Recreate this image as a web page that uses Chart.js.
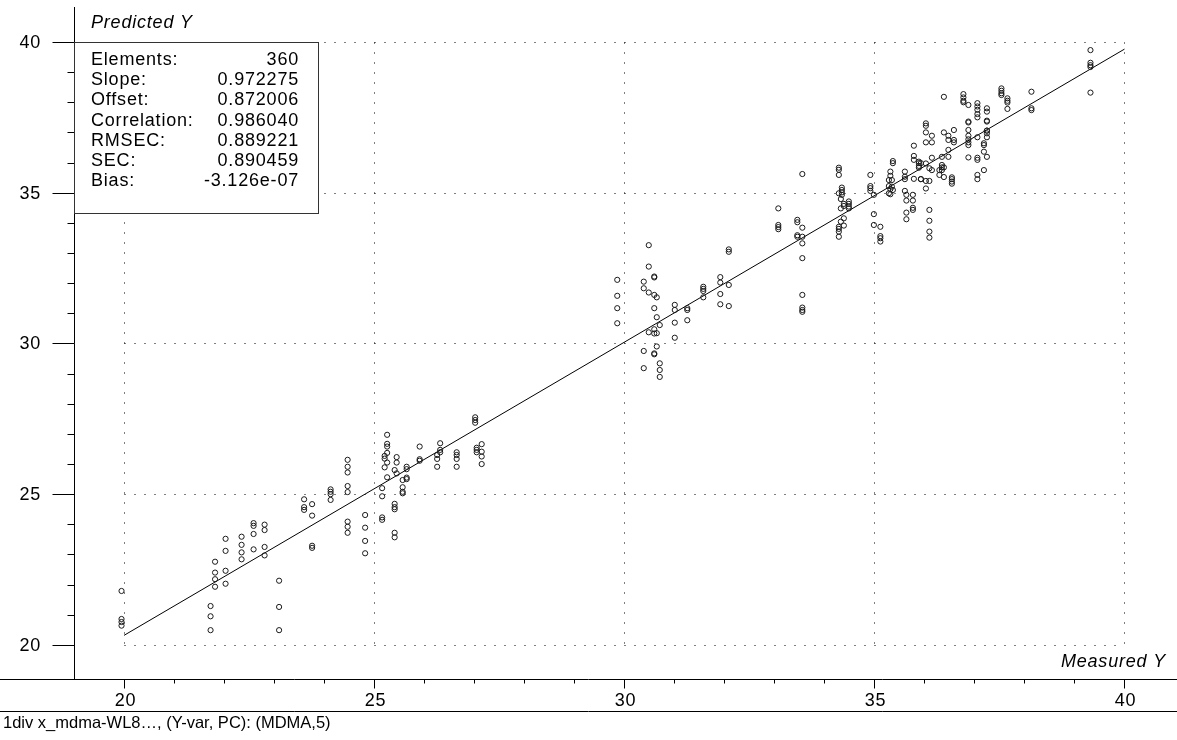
<!DOCTYPE html>
<html>
<head>
<meta charset="utf-8">
<title>Predicted vs Measured Y</title>
<script src="https://cdn.jsdelivr.net/npm/chart.js@4/dist/chart.umd.min.js"></script>
<style>
    html, body { margin: 0; padding: 0; background: #fff; }
    #wrap { width: 1177px; height: 740px; }
</style>
</head>
<body>
<div id="wrap"><canvas id="predChart" width="1177" height="740"></canvas></div>
<script>
// Measured Y of each replicate group (x axis)
const measured = [19.95, 21.73, 21.82, 22.03, 22.35, 22.59, 22.81, 23.10, 23.60, 23.76,
    24.13, 24.47, 24.82, 25.16, 25.21, 25.26, 25.41, 25.45, 25.57, 25.65,
    25.91, 26.26, 26.32, 26.65, 27.02, 27.05, 27.15, 29.86, 30.39, 30.49,
    30.60, 30.65, 30.71, 31.01, 31.26, 31.58, 31.92, 32.09, 33.08, 33.46,
    33.56, 34.29, 34.33, 34.35, 34.39, 34.49, 34.92, 34.99, 35.12, 35.29,
    35.32, 35.35, 35.37, 35.61, 35.64, 35.77, 35.79, 35.89, 35.93, 36.03,
    36.10, 36.15, 36.30, 36.35, 36.39, 36.48, 36.55, 36.59, 36.78, 36.88,
    37.06, 37.19, 37.25, 37.54, 37.66, 38.14, 39.32];

// Predicted Y for each group above (y axis)
const predicted = [
    [21.79, 20.86, 20.76, 20.64],
    [21.29, 20.95, 20.49],
    [22.76, 22.40, 22.18, 21.93],
    [23.52, 23.12, 22.46, 22.03],
    [23.59, 23.32, 23.07, 22.84],
    [24.04, 23.95, 23.68, 23.17],
    [23.99, 23.81, 23.25, 22.97],
    [22.13, 21.26, 20.49],
    [24.83, 24.57, 24.48],
    [24.67, 24.29, 23.29, 23.22],
    [25.16, 25.08, 25.00, 24.81],
    [26.14, 25.91, 25.72, 25.27, 25.07, 24.09, 23.92, 23.72],
    [24.31, 23.89, 23.45, 23.04],
    [25.20, 24.93, 24.23, 24.15],
    [26.27, 26.18, 25.89],
    [26.97, 26.67, 26.58, 26.37, 26.05, 25.56],
    [25.80, 24.68, 24.57, 24.50, 23.72, 23.57],
    [26.23, 26.05, 25.69],
    [25.47, 25.23, 25.08, 25.03],
    [25.91, 25.83, 25.55, 25.50],
    [26.58, 26.16, 26.11],
    [26.30, 26.17, 25.91],
    [26.69, 26.47, 26.39],
    [26.39, 26.30, 26.17, 25.91],
    [27.55, 27.46, 27.37],
    [26.54, 26.47, 26.39],
    [26.66, 26.41, 26.25, 26.00],
    [32.11, 31.58, 31.17, 30.67],
    [32.05, 31.83, 29.75, 29.18],
    [33.26, 32.55, 31.69, 30.37],
    [32.22, 32.19, 31.61, 31.17, 30.47, 30.33, 29.67, 29.64],
    [31.53, 30.87, 30.34, 29.90],
    [30.61, 29.34, 29.12, 28.89],
    [31.28, 31.11, 30.69, 30.19],
    [31.17, 31.11, 30.77],
    [31.88, 31.81, 31.74, 31.53],
    [32.20, 32.02, 31.64, 31.30],
    [33.12, 33.04, 31.94, 31.24],
    [34.48, 33.93, 33.86, 33.79],
    [34.10, 34.02, 33.59, 33.54],
    [35.62, 33.84, 33.54, 33.32, 32.83, 31.61, 31.19, 31.11, 31.05],
    [35.83, 35.76, 35.59, 34.98, 33.87, 33.80, 33.71, 33.54],
    [34.79, 34.48, 34.04],
    [35.17, 35.09, 35.01, 34.93],
    [34.63, 34.56, 34.15, 33.91],
    [34.71, 34.63, 34.54, 34.48],
    [35.59, 35.22, 35.15, 35.06],
    [34.93, 34.29, 33.93],
    [33.87, 33.56, 33.49, 33.38],
    [35.42, 35.22, 34.98],
    [35.70, 35.56, 35.12, 34.95],
    [35.42, 35.20],
    [36.05, 35.98, 35.09],
    [35.70, 35.53, 35.45, 35.06],
    [34.93, 34.74, 34.34, 34.12],
    [34.93, 34.74, 34.50, 34.43],
    [36.56, 36.22, 36.09, 35.46],
    [36.03, 35.98, 35.89, 35.83],
    [35.98, 35.45, 35.45],
    [37.30, 37.22, 37.00, 36.67, 35.97, 35.39, 35.14],
    [35.81, 35.39, 34.43, 34.07, 33.71, 33.51],
    [36.89, 36.67, 36.16, 35.75],
    [35.75, 35.59],
    [36.19, 35.92, 35.84, 35.75],
    [38.18, 37.00, 35.84, 35.52],
    [36.89, 36.75, 36.42, 36.19],
    [35.51, 35.45, 35.37, 35.30],
    [37.08, 36.75, 36.67],
    [38.27, 38.16, 38.05, 38.00],
    [37.91, 37.36, 37.33, 37.08, 36.89, 36.77, 36.67, 36.58, 36.17],
    [37.97, 37.86, 37.75, 37.61, 37.50, 36.84, 36.16, 36.09, 35.59, 35.45],
    [36.64, 36.58, 36.36, 35.75],
    [37.80, 37.69, 37.39, 37.36, 37.06, 37.06, 36.97, 36.84, 36.19],
    [38.46, 38.38, 38.30, 38.24],
    [38.13, 38.05, 37.99, 37.78],
    [38.35, 37.80, 37.74],
    [39.73, 39.31, 39.23, 39.17, 38.32]
];

const xTicks = [20, 25, 30, 35, 40];
const yTicks = [20, 25, 30, 35, 40];
const statLabels = ['Elements:', 'Slope:', 'Offset:', 'Correlation:', 'RMSEC:', 'SEC:', 'Bias:'];
const statValues = ['360', '0.972275', '0.872006', '0.986040', '0.889221', '0.890459', '-3.126e-07'];
const slope = 0.972275;
const offset = 0.872006;

document.addEventListener('DOMContentLoaded', () => {
    const FONT = '"Liberation Sans", Arial, sans-serif';

    // build the scatter points from the groups
    const points = [];
    measured.forEach((mx, i) => {
        (predicted[i] || []).forEach(py => points.push({ x: mx, y: py }));
    });

    // regression line from the reported slope / offset
    const fitLine = [20, 40].map(v => ({ x: v, y: slope * v + offset }));

    // axes, dotted grid, stats box and texts
    const framePlugin = {
        id: 'frame',
        beforeDatasetsDraw(chart) {
            const { ctx, scales: { x, y } } = chart;
            const px = v => Math.round(x.getPixelForValue(v)) + 0.5;
            const py = v => Math.round(y.getPixelForValue(v)) + 0.5;
            const W = chart.width;

            ctx.save();
            ctx.strokeStyle = '#000';
            ctx.lineWidth = 1;

            // dotted grid, only inside 20..40
            ctx.setLineDash([1, 9]);
            xTicks.forEach(v => {
                ctx.beginPath();
                ctx.moveTo(px(v), py(40));
                ctx.lineTo(px(v), py(20));
                ctx.stroke();
            });
            yTicks.forEach(v => {
                ctx.beginPath();
                ctx.moveTo(px(20), py(v));
                ctx.lineTo(px(40), py(v));
                ctx.stroke();
            });
            ctx.setLineDash([]);

            const axX = px(x.min);
            const axY = py(y.min);

            // axis lines
            ctx.beginPath();
            ctx.moveTo(axX, 7);
            ctx.lineTo(axX, axY);
            ctx.moveTo(0, axY);
            ctx.lineTo(W, axY);
            ctx.moveTo(0, 711.5);
            ctx.lineTo(W, 711.5);
            ctx.stroke();

            // ticks every unit, long ones every 5
            for (let v = 20; v <= 40; v++) {
                const major = v % 5 === 0;
                ctx.beginPath();
                ctx.moveTo(axX - (major ? 22 : 7), py(v));
                ctx.lineTo(axX, py(v));
                ctx.moveTo(px(v), axY);
                ctx.lineTo(px(v), axY + (major ? 9 : 4));
                ctx.stroke();
            }

            // tick labels
            ctx.fillStyle = '#000';
            ctx.font = '18px ' + FONT;
            ctx.letterSpacing = '0.8px';
            ctx.textBaseline = 'middle';
            ctx.textAlign = 'right';
            yTicks.forEach(v => ctx.fillText(String(v), 41, py(v) + 1));
            ctx.textAlign = 'center';
            xTicks.forEach(v => ctx.fillText(String(v), px(v) + 1, 701));

            // axis titles
            ctx.font = 'italic 18px ' + FONT;
            ctx.textAlign = 'left';
            ctx.fillText('Predicted Y', 91, 23);
            ctx.textAlign = 'right';
            ctx.fillText('Measured Y', 1166, 662);

            // stats box
            ctx.fillStyle = '#fff';
            ctx.fillRect(axX, 42.5, 318.5 - axX, 171);
            ctx.strokeStyle = '#333';
            ctx.strokeRect(axX, 42.5, 318.5 - axX, 171);
            ctx.fillStyle = '#000';
            ctx.font = '18px ' + FONT;
            statLabels.forEach((lab, i) => {
                const ty = 60 + i * 20.2;
                ctx.textAlign = 'left';
                ctx.fillText(lab, 91, ty);
                ctx.textAlign = 'right';
                ctx.fillText(statValues[i], 299, ty);
            });

            // footer
            ctx.letterSpacing = '0px';
            ctx.font = '16.5px ' + FONT;
            ctx.textAlign = 'left';
            ctx.fillText('1div x_mdma-WL8\u2026, (Y-var, PC): (MDMA,5)', 3, 723);
            ctx.restore();
        }
    };

    new Chart(document.getElementById('predChart'), {
        type: 'scatter',
        data: {
            datasets: [{
                label: 'Samples',
                data: points,
                pointStyle: 'circle',
                pointRadius: 2.6,
                borderWidth: 1,
                borderColor: '#1a1a1a',
                backgroundColor: 'rgba(0,0,0,0)'
            }, {
                type: 'line',
                label: 'Fit',
                data: fitLine,
                borderColor: '#000',
                borderWidth: 1,
                pointRadius: 0,
                fill: false
            }]
        },
        options: {
            responsive: false,
            animation: false,
            devicePixelRatio: 1,
            events: [],
            layout: { padding: { left: 74, right: 0, top: 7, bottom: 61 } },
            plugins: { legend: { display: false }, tooltip: { enabled: false } },
            scales: {
                x: { type: 'linear', display: false, min: 19, max: 40.95 },
                y: { type: 'linear', display: false, min: 18.87, max: 41.16 }
            }
        },
        plugins: [framePlugin]
    });
});
</script>
</body>
</html>
